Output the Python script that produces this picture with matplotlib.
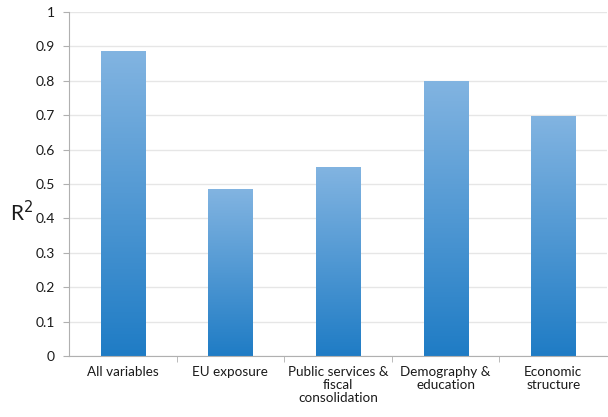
import numpy as np
import matplotlib.pyplot as plt
from matplotlib.colors import LinearSegmentedColormap

plt.rcParams['font.family'] = ['Lato', 'DejaVu Sans']

categories = ['All variables', 'EU exposure', 'Public services &\nfiscal\nconsolidation',
              'Demography &\neducation', 'Economic\nstructure']
r2 = [0.884, 0.485, 0.547, 0.799, 0.697]

fig = plt.figure(figsize=(6.08, 4.17), dpi=100)
ax = fig.add_axes([0.1135, 0.1463, 0.885, 0.8249])

x = np.arange(len(categories))
bars = ax.bar(x, r2, width=0.41, color='none', zorder=2)

# vertical gradient: light blue at top, darker at bottom
cmap = LinearSegmentedColormap.from_list('grad', ['#1f7cc5', '#82b4e1'])
grad = np.linspace(0, 1, 256).reshape(-1, 1)
for b in bars:
    x0, w, h = b.get_x(), b.get_width(), b.get_height()
    ax.imshow(grad, cmap=cmap, origin='lower', aspect='auto',
              extent=[x0, x0 + w, 0, h], zorder=2)

ax.set_xlim(-0.5, len(categories) - 0.5)
ax.set_ylim(0, 1)
ax.set_yticks(np.arange(0, 1.01, 0.1))
ax.set_yticklabels(['0', '0.1', '0.2', '0.3', '0.4', '0.5', '0.6', '0.7', '0.8', '0.9', '1'])
ax.set_xticks(x)
ax.set_xticklabels(categories, fontsize=9.7, color='#1a1a1a', linespacing=1.1)
ax.set_xticks(np.arange(0.5, len(categories) - 0.5), minor=True)
ax.tick_params(axis='x', which='major', length=0, pad=7)
ax.tick_params(axis='x', which='minor', length=4, color='#b0b0b0')
ax.tick_params(axis='y', length=4, color='#b0b0b0', labelsize=10, labelcolor='#1a1a1a', pad=6)

ax.grid(axis='y', color='#e6e6e6', linewidth=1, zorder=0)
ax.set_axisbelow(True)
for s in ['top', 'right']:
    ax.spines[s].set_visible(False)
ax.spines['left'].set_color('#b0b0b0')
ax.spines['bottom'].set_color('#b0b0b0')

fig.text(0.036, 0.49, 'R$^2$', fontsize=15, color='#1a1a1a', ha='center', va='center')

fig.savefig('out.png', dpi=100)
